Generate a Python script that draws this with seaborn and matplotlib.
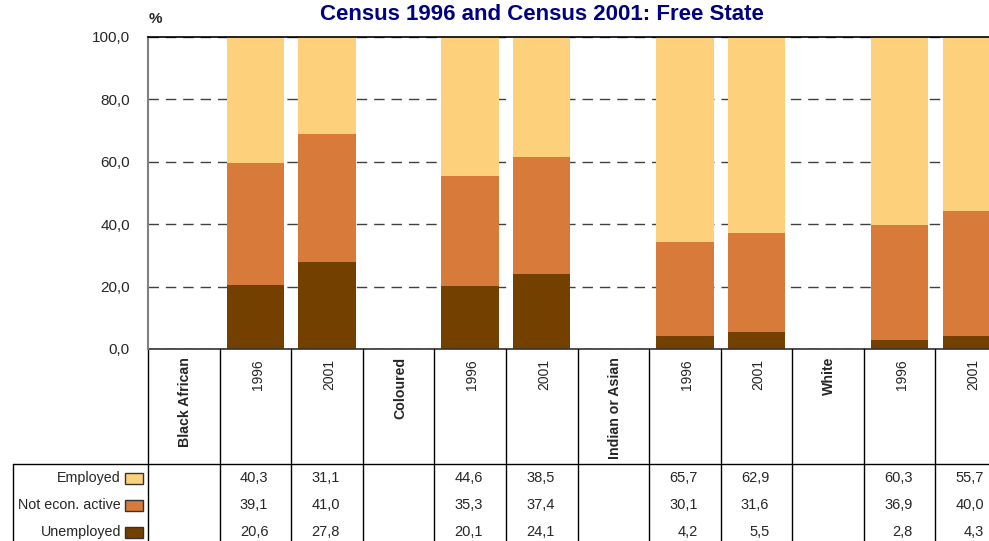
import matplotlib
matplotlib.use("Agg")
import matplotlib.pyplot as plt
import seaborn as sns
import pandas as pd
from matplotlib.patches import Rectangle

# columns of the chart (group label columns have no bar)
columns = ["Black African", "BA 1996", "BA 2001",
           "Coloured", "C 1996", "C 2001",
           "Indian or Asian", "I 1996", "I 2001",
           "White", "W 1996", "W 2001"]
groups = ["Black African", "Coloured", "Indian or Asian", "White"]
bar_cols = ["BA 1996", "BA 2001", "C 1996", "C 2001",
            "I 1996", "I 2001", "W 1996", "W 2001"]

employed = [40.3, 31.1, 44.6, 38.5, 65.7, 62.9, 60.3, 55.7]
not_active = [39.1, 41.0, 35.3, 37.4, 30.1, 31.6, 36.9, 40.0]
unemployed = [20.6, 27.8, 20.1, 24.1, 4.2, 5.5, 2.8, 4.3]

row_names = ["Employed", "Not econ. active", "Unemployed"]
colors = ["#FDD17C", "#D87B3A", "#734000"]

df = pd.DataFrame({"col": bar_cols, "emp": employed,
                   "nea": not_active, "une": unemployed})
df["top"] = df["emp"] + df["nea"] + df["une"]
df["mid"] = df["nea"] + df["une"]

sns.set_style("white")
plt.rcParams["font.family"] = ["Liberation Sans", "DejaVu Sans"]

W, H = 989, 541
fig = plt.figure(figsize=(W / 100, H / 100), dpi=100)
ax = fig.add_axes([148 / W, 1 - 349 / H, 859 / W, 312 / H])

for ycol, c in zip(["top", "mid", "une"], colors):
    sns.barplot(data=df, x="col", y=ycol, order=columns, color=c,
                saturation=1, width=0.8, linewidth=0, ax=ax)

ax.set_xlim(-0.5, 11.5)
ax.set_ylim(0, 100)
ax.set_xticks([])
ax.set_yticks([0, 20, 40, 60, 80, 100])
ax.set_yticklabels(["0,0", "20,0", "40,0", "60,0", "80,0", "100,0"], fontsize=11)
ax.tick_params(axis="y", length=0, pad=13)
ax.set_xlabel("")
ax.set_ylabel("")
ax.set_axisbelow(True)
ax.yaxis.grid(True, linestyle=(0, (7.5, 5)), color="#404040", linewidth=1)
ax.axhline(0, color="#333333", linewidth=1.2, clip_on=False)
for s in ["right", "bottom"]:
    ax.spines[s].set_visible(False)
ax.spines["top"].set_color("black")
ax.spines["top"].set_linewidth(1.2)
ax.spines["left"].set_color("#808080")
ax.spines["left"].set_linewidth(1.5)


def ypx(py):
    return (349 - py) * 100 / 312


def xpx(px):
    return (px - 148) / (859 / 12) - 0.5


# table lines
kw = dict(color="black", linewidth=1, clip_on=False)
for b in range(12):
    x = b + 0.5
    ax.plot([x, x], [0, ypx(545)], **kw)
ax.plot([-0.5, -0.5], [0, ypx(545)], **kw)
ax.plot([xpx(13), xpx(13)], [ypx(464), ypx(545)], **kw)
ax.plot([xpx(13), 11.5], [ypx(464), ypx(464)], **kw)

# header labels
for i, lab in enumerate(columns):
    if lab in groups:
        ax.text(i + 0.02, ypx(357), lab, rotation=90, ha="center", va="top",
                fontsize=10.2, fontweight="bold", clip_on=False)
    else:
        ax.text(i + 0.03, ypx(359), lab.split()[-1], rotation=90, ha="center",
                va="top", fontsize=10, clip_on=False)

# data rows
row_y = [478, 505, 532]
for name, vals, c, py in zip(row_names, [employed, not_active, unemployed], colors, row_y):
    ax.text(xpx(121), ypx(py), name, ha="right", va="center", fontsize=10.3,
            clip_on=False)
    ax.add_patch(Rectangle((xpx(125), ypx(py + 5.5)), 18 / (859 / 12), 11 * 100 / 312,
                           facecolor=c, edgecolor="#333333", linewidth=1, clip_on=False))
    for col, v in zip(bar_cols, vals):
        i = columns.index(col)
        ax.text(i + 0.5 - 0.32, ypx(py), f"{v:.1f}".replace(".", ","),
                ha="right", va="center", fontsize=10.5, clip_on=False)

fig.text(542 / W, 1 - 15 / H, "Census 1996 and Census 2001: Free State",
         ha="center", va="center", fontsize=16, fontweight="bold", color="#000080")
fig.text(149 / W, 1 - 19 / H, "%", ha="left", va="center", fontsize=11,
         fontweight="bold")

fig.savefig("out.png", dpi=100)
